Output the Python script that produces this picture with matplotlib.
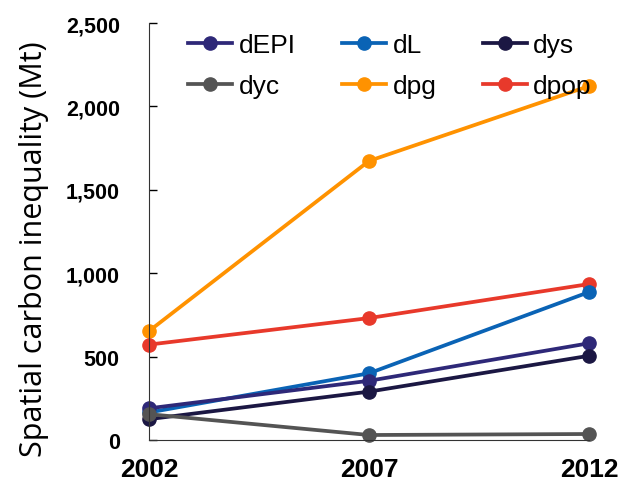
import matplotlib.pyplot as plt

years = [2002, 2007, 2012]
dEPI = [190, 355, 580]
dL = [165, 400, 887]
dys = [125, 290, 505]
dyc = [155, 30, 36]
dpg = [653, 1673, 2122]
dpop = [572, 731, 935]

yticks = [0, 500, 1000, 1500, 2000, 2500]
ytick_labels = ['0', '500', '1,000', '1,500', '2,000', '2,500']

colors = {
    'dEPI': '#2e2878',
    'dyc': '#545454',
    'dL': '#0a63b5',
    'dpg': '#ff9200',
    'dys': '#1b1743',
    'dpop': '#e8392b',
}
values = {'dEPI': dEPI, 'dyc': dyc, 'dL': dL, 'dpg': dpg, 'dys': dys, 'dpop': dpop}

fig = plt.figure(figsize=(6.22, 4.85), dpi=100)
ax = fig.add_axes([0.2395, 0.0907, 0.7075, 0.8598])

# gray last so it sits on top near zero
for name in ['dpg', 'dpop', 'dL', 'dEPI', 'dys', 'dyc']:
    ax.plot(years, values[name], color=colors[name], lw=2.7, marker='o', ms=9.5,
            label=name, clip_on=False)

# legend filled column-wise -> reorder so rows read dEPI dL dys / dyc dpg dpop
handles, labels = ax.get_legend_handles_labels()
hmap = dict(zip(labels, handles))
order = ['dEPI', 'dyc', 'dL', 'dpg', 'dys', 'dpop']
ax.legend([hmap[k] for k in order], order, ncol=3, frameon=False,
          loc='upper left', bbox_to_anchor=(0.089, 0.975),
          prop={'family': 'Liberation Sans', 'size': 19},
          handlelength=1.67, handletextpad=0.25, columnspacing=1.75,
          labelspacing=0.64, borderpad=0, borderaxespad=0)

ax.set_xlim(2002, 2012)
ax.set_ylim(0, 2500)
ax.set_xticks(years)
ax.set_xticklabels([str(y) for y in years], fontsize=19, fontweight='bold',
                   family='Liberation Sans')
ax.set_yticks(yticks)
ax.set_yticklabels(ytick_labels, fontsize=15.5, fontweight='bold',
                   family='Liberation Sans')
ax.tick_params(axis='x', length=0, pad=12)
ax.tick_params(axis='y', length=6, width=1, direction='in', pad=21)
ax.spines['top'].set_visible(False)
ax.spines['right'].set_visible(False)
ax.spines['left'].set_color('#333333')
ax.spines['bottom'].set_color('#333333')
ax.set_ylabel('Spatial carbon inequality (Mt)', fontsize=22, family='Open Sans')
ax.yaxis.set_label_coords(-0.227, 0.46)

fig.savefig('out.png', dpi=100)
